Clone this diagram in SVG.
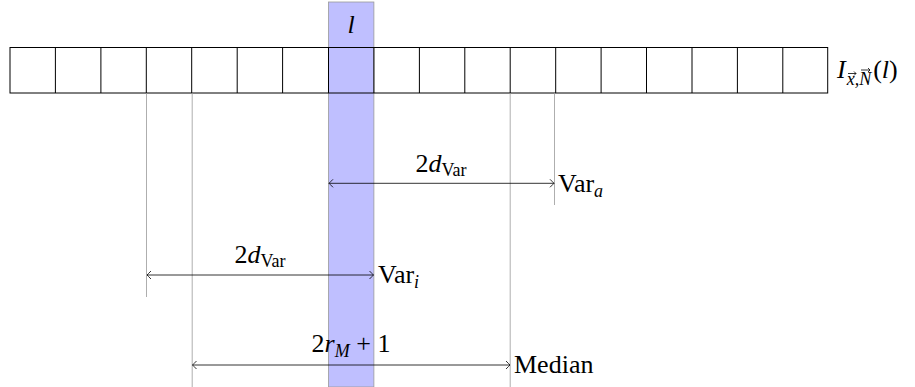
<svg xmlns="http://www.w3.org/2000/svg" width="915" height="387" viewBox="0 0 915 387">
<style>
text{font-family:"Liberation Serif","DejaVu Serif",serif;font-size:26px;fill:#000}
.it{font-style:italic}
.sub{font-size:18px}
.cell{fill:none;stroke:#000;stroke-width:1}
.guide{stroke:#999;stroke-width:0.8;fill:none}
.dim{stroke:#000;stroke-width:0.8;fill:none;marker-start:url(#ah);marker-end:url(#ah)}
.vec{stroke:#000;stroke-width:0.8;fill:none}
</style>
<defs>
<marker id="ah" viewBox="-6 -6 12 12" markerWidth="12" markerHeight="12" refX="0" refY="0" orient="auto-start-reverse" markerUnits="userSpaceOnUse">
<path d="M-4,-4 Q-1,-1 0,0 Q-1,1 -4,4" fill="none" stroke="#000" stroke-width="0.8"/>
</marker>
</defs>
<g id="band">
<rect x="328.5" y="2" width="45.4" height="385" fill="#bfbfff" stroke="#999" stroke-width="0.8"/>
<text x="351" y="33" class="it" text-anchor="middle">l</text>
</g>
<g id="array">
<rect class="cell" x="10" y="47.5" width="817.7" height="45.5"/>
<path class="cell" d="M55.4,47.5V93M100.9,47.5V93M146.3,47.5V93M191.7,47.5V93M237.2,47.5V93M282.6,47.5V93M328.5,47.5V93M373.9,47.5V93M419.4,47.5V93M464.8,47.5V93M510.2,47.5V93M555.7,47.5V93M601.1,47.5V93M646.5,47.5V93M692,47.5V93M737.4,47.5V93M782.8,47.5V93"/>
<text x="837" y="78"><tspan class="it">I</tspan><tspan class="sub it" dx="1" dy="7">x,N</tspan><tspan dx="2" dy="-7">(</tspan><tspan class="it">l</tspan>)</text>
<path class="vec" d="M848,73.5H856M854,71.5L856,73.5L854,75.5M861,70H870M868,68L870,70L868,72"/>
</g>
<g id="guides">
<path class="guide" d="M146.5,93V297M192.2,93V387M510.2,93V387M554.5,93V205"/>
</g>
<g id="connectors">
<path class="dim" d="M329,183.3H554"/>
<path class="dim" d="M147,275H373.5"/>
<path class="dim" d="M192.5,365H510"/>
</g>
<g id="var-a">
<text x="441" y="171.5" text-anchor="middle">2<tspan class="it">d</tspan><tspan class="sub" dy="4">Var</tspan></text>
<text x="558" y="192">Var<tspan class="sub it" dy="5">a</tspan></text>
</g>
<g id="var-i">
<text x="260" y="263" text-anchor="middle">2<tspan class="it">d</tspan><tspan class="sub" dy="4">Var</tspan></text>
<text x="378" y="283">Var<tspan class="sub it" dy="5">i</tspan></text>
</g>
<g id="median">
<text x="351" y="352" text-anchor="middle">2<tspan class="it">r</tspan><tspan class="sub it" dy="5">M</tspan><tspan dy="-5"> + 1</tspan></text>
<text x="514" y="373">Median</text>
</g>
</svg>
